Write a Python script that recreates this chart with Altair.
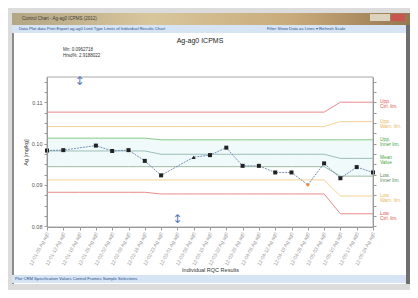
import altair as alt
import pandas as pd

# ---------------- data ----------------
samples = [
    "12-01-05 Ag ag0", "12-01-12 Ag ag0", "12-01-19 Ag ag0", "12-01-26 Ag ag0",
    "12-02-02 Ag ag0", "12-02-09 Ag ag0", "12-02-16 Ag ag0", "12-02-23 Ag ag0",
    "12-03-01 Ag ag0", "12-03-08 Ag ag0", "12-03-15 Ag ag0", "12-03-22 Ag ag0",
    "12-03-29 Ag ag0", "12-04-05 Ag ag0", "12-04-12 Ag ag0", "12-04-19 Ag ag0",
    "12-04-26 Ag ag0", "12-05-03 Ag ag0", "12-05-10 Ag ag0", "12-05-17 Ag ag0",
    "12-05-24 Ag ag0",
]
results = [0.0983, 0.0984, None, 0.0995, 0.0982, 0.0984, 0.0958, 0.0923, None, 0.0967, 0.0972,
           0.0990, 0.0946, 0.0946, 0.0930, 0.0930, 0.0900, 0.0952, 0.0916, 0.0943, 0.0930]
status = ["ok", "ok", "ok", "ok", "ok", "ok", "ok", "ok", "ok", "flag", "ok",
          "ok", "ok", "ok", "ok", "ok", "warn", "ok", "ok", "ok", "ok"]

upper_control = [0.1076, 0.1076, 0.1076, 0.1076, 0.1076, 0.1076, 0.1076, 0.1076, 0.1076, 0.1076, 0.1076,
                 0.1076, 0.1076, 0.1076, 0.1076, 0.1076, 0.1076, 0.1076, 0.1100, 0.1100, 0.1100]
upper_warning = [0.1041, 0.1041, 0.1041, 0.1041, 0.1041, 0.1041, 0.1041, 0.1041, 0.1041, 0.1041, 0.1041,
                 0.1041, 0.1041, 0.1041, 0.1041, 0.1041, 0.1041, 0.1041, 0.1053, 0.1053, 0.1053]
upper_inner = [0.1013, 0.1013, 0.1013, 0.1013, 0.1013, 0.1013, 0.1013, 0.1009, 0.1009, 0.1009, 0.1009,
               0.1009, 0.1009, 0.1009, 0.1009, 0.1009, 0.1009, 0.1009, 0.1009, 0.1009, 0.1009]
mean_value = [0.0982, 0.0982, 0.0982, 0.0982, 0.0982, 0.0982, 0.0982, 0.0974, 0.0974, 0.0974, 0.0974,
              0.0974, 0.0974, 0.0974, 0.0974, 0.0974, 0.0974, 0.0974, 0.0964, 0.0964, 0.0964]
lower_inner = [0.0944, 0.0944, 0.0944, 0.0944, 0.0944, 0.0944, 0.0944, 0.0944, 0.0944, 0.0944, 0.0944,
               0.0944, 0.0944, 0.0944, 0.0944, 0.0944, 0.0944, 0.0944, 0.0921, 0.0921, 0.0921]
lower_warning = [0.0912, 0.0912, 0.0912, 0.0912, 0.0912, 0.0912, 0.0912, 0.0912, 0.0912, 0.0912, 0.0912,
                 0.0912, 0.0912, 0.0912, 0.0912, 0.0912, 0.0912, 0.0912, 0.0873, 0.0873, 0.0873]
lower_control = [0.0882, 0.0882, 0.0882, 0.0882, 0.0882, 0.0882, 0.0882, 0.0878, 0.0878, 0.0878, 0.0878,
                 0.0878, 0.0878, 0.0878, 0.0878, 0.0878, 0.0878, 0.0878, 0.0830, 0.0830, 0.0830]

limit_names = ["Upper control", "Upper warning", "Upper inner", "Mean",
               "Lower inner", "Lower warning", "Lower control"]
limit_labels = ["Upp.\nCtrl. lim.", "Upp.\nWarn. lim.", "Upp.\nInner lim.", "Mean\nValue",
                "Low.\nInner lim.", "Low.\nWarn. lim.", "Low.\nCtrl. lim."]
limit_colors = ["#e77d7d", "#f0cd8a", "#7cc47c", "#93b8ae", "#98b498", "#f0cd8a", "#e77d7d"]
label_colors = ["#e05555", "#e8b860", "#45a845", "#45a845", "#5c8a5c", "#e8b860", "#e05555"]

marker_arrows = [2, 8]
arrow_values = [0.1151, 0.0818]

y_ticks = [0.0800, 0.0825, 0.0850, 0.0875, 0.0900, 0.0925, 0.0950, 0.0975,
           0.1000, 0.1025, 0.1050, 0.1075, 0.1100, 0.1125, 0.1150]

stats_text = ["Mn:      0.0962718", "Hrsd%:  2.9188022"]

# ---------------- tables ----------------
pts = pd.DataFrame({"sample": samples, "result": results, "status": status})
pts_valid = pts.dropna()

series_lists = [upper_control, upper_warning, upper_inner, mean_value,
                lower_inner, lower_warning, lower_control]
rows = []
for nm, vals in zip(limit_names, series_lists):
    for s, v in zip(samples, vals):
        rows.append({"sample": s, "limit": nm, "value": v})
limits = pd.DataFrame(rows)
band = pd.DataFrame({"sample": samples, "lo": lower_inner, "hi": upper_inner})
lab = pd.DataFrame({
    "sample": [samples[-1]] * len(limit_names),
    "limit": limit_names,
    "value": [vals[-1] for vals in series_lists],
    "label": limit_labels,
})
arrows = pd.DataFrame({"sample": [samples[i] for i in marker_arrows], "value": arrow_values})

FONT = "Liberation Sans"
W, H = 326, 150

x_enc = alt.X("sample:O", sort=samples,
              scale=alt.Scale(type="point", padding=0),
              axis=alt.Axis(title="Individual RQC Results", labelAngle=-62, labelAlign="right",
                            labelBaseline="middle", labelFontSize=5, labelColor="#999999",
                            labelFont=FONT, titleFont=FONT, titleFontSize=5.5,
                            titleFontWeight="normal", titleColor="#333333", titlePadding=1,
                            tickSize=3, tickColor="#999999", domainColor="#999999",
                            grid=False, labelPadding=2, zindex=1))
y_scale = alt.Scale(domain=[0.0798, 0.1161], nice=False, zero=False)

x_plain = alt.X("sample:O", sort=samples, scale=alt.Scale(type="point", padding=0), axis=None)

band_layer = alt.Chart(band).mark_area(color="#f0fafa", opacity=1, interpolate="linear").encode(
    x=x_enc,
    y=alt.Y("lo:Q", scale=y_scale, axis=None),
    y2="hi:Q",
)

limit_layer = alt.Chart(limits).mark_line(strokeWidth=0.9).encode(
    x=x_plain,
    y=alt.Y("value:Q", scale=y_scale,
            axis=alt.Axis(orient="right", labels=False, title=None, values=y_ticks,
                          tickSize=3, tickColor="#999999", domainColor="#999999", grid=False,
                          zindex=1)),
    color=alt.Color("limit:N", scale=alt.Scale(domain=limit_names, range=limit_colors), legend=None),
    detail="limit:N",
)

line_layer = alt.Chart(pts_valid).mark_line(color="#5577aa", strokeWidth=0.8,
                                            strokeDash=[2, 1]).encode(
    x=x_plain,
    y=alt.Y("result:Q", scale=y_scale,
            axis=alt.Axis(title="Ag [mg/kg]", values=y_ticks,
                          labelExpr="abs(datum.value*100 - round(datum.value*100)) < 0.01 ? format(datum.value, '.2f') : ''",
                          labelFontSize=5.5, labelColor="#555555", labelFont=FONT,
                          titleFont=FONT, titleFontSize=5.5, titleFontWeight="normal",
                          titleColor="#444444", titlePadding=3, tickSize=3,
                          tickColor="#999999", domainColor="#999999", grid=False, zindex=1)),
)

point_layer = alt.Chart(pts_valid).mark_point(filled=True, size=16, opacity=1).encode(
    x=x_plain,
    y=alt.Y("result:Q", scale=y_scale, axis=None),
    shape=alt.Shape("status:N", scale=alt.Scale(domain=["ok", "flag", "warn"],
                                                range=["square", "triangle-up", "diamond"]), legend=None),
    color=alt.Color("status:N", scale=alt.Scale(domain=["ok", "flag", "warn"],
                                                range=["#222222", "#222222", "#f08a3a"]), legend=None),
)

arrow_layer = alt.Chart(arrows).mark_text(text="↕", fontSize=12, color="#5b78c0", font="DejaVu Sans").encode(
    x=x_plain,
    y=alt.Y("value:Q", scale=y_scale, axis=None),
)

label_layer = alt.Chart(lab).mark_text(align="left", baseline="top", dx=7, dy=-3, fontSize=4.8,
                                       lineBreak="\n", font=FONT, lineHeight=5).encode(
    x=x_plain,
    y=alt.Y("value:Q", scale=y_scale, axis=None),
    text="label:N",
    color=alt.Color("limit:N", scale=alt.Scale(domain=limit_names, range=label_colors), legend=None),
)

# ---------------- window chrome (decoration) ----------------
one = pd.DataFrame({"a": [0]})


def box(x1, x2, y1, y2, fill):
    return alt.Chart(one).mark_rect(fill=fill).encode(
        x=alt.value(x1), x2=alt.value(x2), y=alt.value(y1), y2=alt.value(y2))


def label(x, y, txt, size=4.5, color="#333333", align="left", weight="normal"):
    return alt.Chart(one).mark_text(text=txt, fontSize=size, color=color, align=align,
                                    baseline="middle", font=FONT, fontWeight=weight).encode(
        x=alt.value(x), y=alt.value(y))


title_grad = alt.LinearGradient(gradient="linear", x1=0, x2=1, y1=0, y2=0, stops=[
    alt.GradientStop(color="#b3a684", offset=0),
    alt.GradientStop(color="#d8c69c", offset=0.35),
    alt.GradientStop(color="#c9ab7a", offset=0.7),
    alt.GradientStop(color="#957650", offset=1),
])

chrome = [
    box(-35, 365, -64, 207, "#ffffff"),
    box(-35, -33, -52, 207, "#8c8c8c"),
    alt.Chart(one).mark_rect(fill=title_grad).encode(
        x=alt.value(-35), x2=alt.value(365), y=alt.value(-64), y2=alt.value(-52)),
    box(-35, 365, -52, -44, "#d6e4f4"),
    box(-35, 365, 198, 206, "#d6e4f4"),
    box(359, 364, -52, 207, "#6e6e6e"),
    box(323, 343, -63, -56, "#ddd3bd"),
    box(344, 358, -63, -56, "#c8564f"),
    label(-25, -58, "Control Chart - Ag-ag0 ICPMS (2012)", 4.5, "#3a3a3a"),
    label(-28, -48, "Data   Plot data   Print   Export   ag-ag0   Limit Type   Limits of Individual Results Chart",
          4.2, "#2a4f8a"),
    label(220, -48, "Filter   Show Data as Lines   ▾   Refresh   Scale", 4.2, "#2a4f8a"),
    label(-32, 202, "Plot    CRM Specification    Values    Control Frames    Sample Selections", 4.2, "#2a4f8a"),
    label(153, -36, "Ag-ag0 ICPMS", 7, "#222222", "center"),
    label(16, -27, stats_text[0], 4.5, "#333333"),
    label(16, -21, stats_text[1], 4.5, "#333333"),
]

frame = alt.Chart(one).mark_rect(fill=None, stroke="#a8a8a8", strokeWidth=1).encode(
    x=alt.value(0), x2=alt.value(W), y=alt.value(0), y2=alt.value(H))

chart = alt.layer(
    *chrome,
    band_layer, frame, limit_layer, line_layer, point_layer, arrow_layer, label_layer,
).resolve_axis(x="independent", y="independent").resolve_scale(
    color="independent", shape="independent"
).properties(
    width=W, height=H,
    background="#dcdcdc",
    padding={"left": 39, "top": 69, "right": 37, "bottom": 63},
    autosize=alt.AutoSizeParams(type="none"),
).configure_view(stroke=None, fill=None)

chart.save("out.html", embed_options={"renderer": "svg", "actions": False})
